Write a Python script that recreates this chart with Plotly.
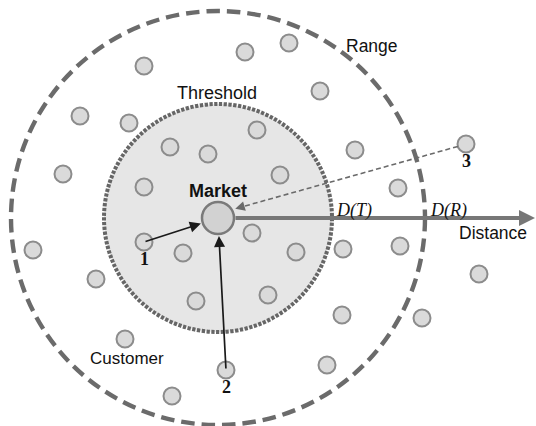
import plotly.graph_objects as go
import math

# ---- data (diagram coordinates) ----
cust_x = [245, 289, 144, 320, 80, 129, 257, 170, 208, 355, 466, 63, 280, 144, 398,
          144, 33, 183, 252, 96, 296, 343, 400, 479, 196, 268, 342, 422, 125, 327, 226, 172]
cust_y = [52, 43, 66, 91, 116, 123, 130, 147, 154, 150, 144, 174, 175, 187, 188,
          242, 250, 253, 233, 279, 252, 249, 246, 274, 301, 295, 315, 318, 339, 365, 370, 396]
numbered = {"1": 15, "2": 30, "3": 10}

market_x, market_y = 218, 218
market_r = 16
threshold_r = 114
range_r = 207
cust_r = 8.5
distance_end = 535
dt_label = "D(T)"
dr_label = "D(R)"

fig = go.Figure()

W, H = 536, 426

shapes = []
shapes.append(dict(type="circle", xref="x", yref="y",
                   x0=market_x - threshold_r, x1=market_x + threshold_r,
                   y0=market_y - threshold_r, y1=market_y + threshold_r,
                   fillcolor="#e6e6e6", line=dict(color="#666666", width=4, dash="3.3px,1.5px"),
                   layer="below"))
shapes.append(dict(type="circle", xref="x", yref="y",
                   x0=market_x - range_r, x1=market_x + range_r,
                   y0=market_y - range_r, y1=market_y + range_r,
                   line=dict(color="#6b6b6b", width=4.4, dash="13.5px,7px"),
                   layer="below"))

i3 = numbered["3"]
dx, dy = market_x - cust_x[i3], market_y - cust_y[i3]
L = math.hypot(dx, dy)
ux, uy = dx / L, dy / L
sx, sy = cust_x[i3] + ux * cust_r, cust_y[i3] + uy * cust_r
tx, ty = market_x - ux * (market_r + 2), market_y - uy * (market_r + 2) - 4
shapes.append(dict(type="line", xref="x", yref="y", x0=sx, y0=sy, x1=tx + ux * -6, y1=ty + uy * -6,
                   line=dict(color="#6a6a6a", width=1.6, dash="5px,3px"), layer="above"))

fig.add_trace(go.Scatter(x=cust_x, y=cust_y, mode="markers", hoverinfo="skip",
                         marker=dict(size=2 * cust_r, color="#dadada",
                                     line=dict(color="#8c8c8c", width=2))))
fig.add_trace(go.Scatter(x=[market_x], y=[market_y], mode="markers", hoverinfo="skip",
                         marker=dict(size=2 * market_r, color="#d2d2d2",
                                     line=dict(color="#7a7a7a", width=2.5))))

ann = []
ann.append(dict(x=distance_end, y=market_y, ax=market_x + market_r, ay=market_y,
                xref="x", yref="y", axref="x", ayref="y", text="", showarrow=True,
                arrowhead=2, arrowsize=0.8, arrowwidth=4, arrowcolor="#777777"))
for key in ("1", "2"):
    i = numbered[key]
    ddx, ddy = market_x - cust_x[i], market_y - cust_y[i]
    LL = math.hypot(ddx, ddy)
    tipx = cust_x[i] + ddx / LL * (LL - market_r - 2)
    tipy = cust_y[i] + ddy / LL * (LL - market_r - 2)
    ann.append(dict(x=tipx, y=tipy, ax=cust_x[i], ay=cust_y[i],
                    xref="x", yref="y", axref="x", ayref="y", text="", showarrow=True,
                    arrowhead=2, arrowsize=1.3, arrowwidth=1.7, arrowcolor="#1a1a1a"))
ann.append(dict(x=tx, y=ty, ax=tx - ux * 10, ay=ty - uy * 10,
                xref="x", yref="y", axref="x", ayref="y", text="", showarrow=True,
                arrowhead=2, arrowsize=1.2, arrowwidth=1.6, arrowcolor="#6a6a6a"))

sans = "Liberation Sans, Arial, sans-serif"
serif = "Liberation Serif, Times New Roman, serif"

def label(x, y, text, size=18, family=sans, color="#111111"):
    ann.append(dict(x=x, y=y, xref="x", yref="y", text=text, showarrow=False,
                    font=dict(family=family, size=size, color=color),
                    xanchor="center", yanchor="middle"))

label(372, 46, "Range", size=17.5)
label(217, 93, "Threshold", size=18)
label(218, 191, "<b>Market</b>", size=18)
label(493, 233, "Distance", size=17.5)
label(127, 358, "Customer", size=17)
label(354, 210, "<i>" + dt_label + "</i>", size=18, family=serif)
label(448, 210, "<i>" + dr_label + "</i>", size=18, family=serif)
for key, i in numbered.items():
    label(cust_x[i], cust_y[i] + 17, "<b>" + key + "</b>", size=18, family=serif)

fig.update_layout(width=W, height=H, autosize=False,
                  margin=dict(l=0, r=0, t=0, b=0),
                  paper_bgcolor="white", plot_bgcolor="white",
                  showlegend=False, shapes=shapes, annotations=ann,
                  xaxis=dict(range=[0, W], visible=False, fixedrange=True),
                  yaxis=dict(range=[H, 0], visible=False, fixedrange=True))

fig.write_html("out.html", config={"displayModeBar": False},
               post_script="document.body.style.margin='0';document.body.style.overflow='hidden';")
